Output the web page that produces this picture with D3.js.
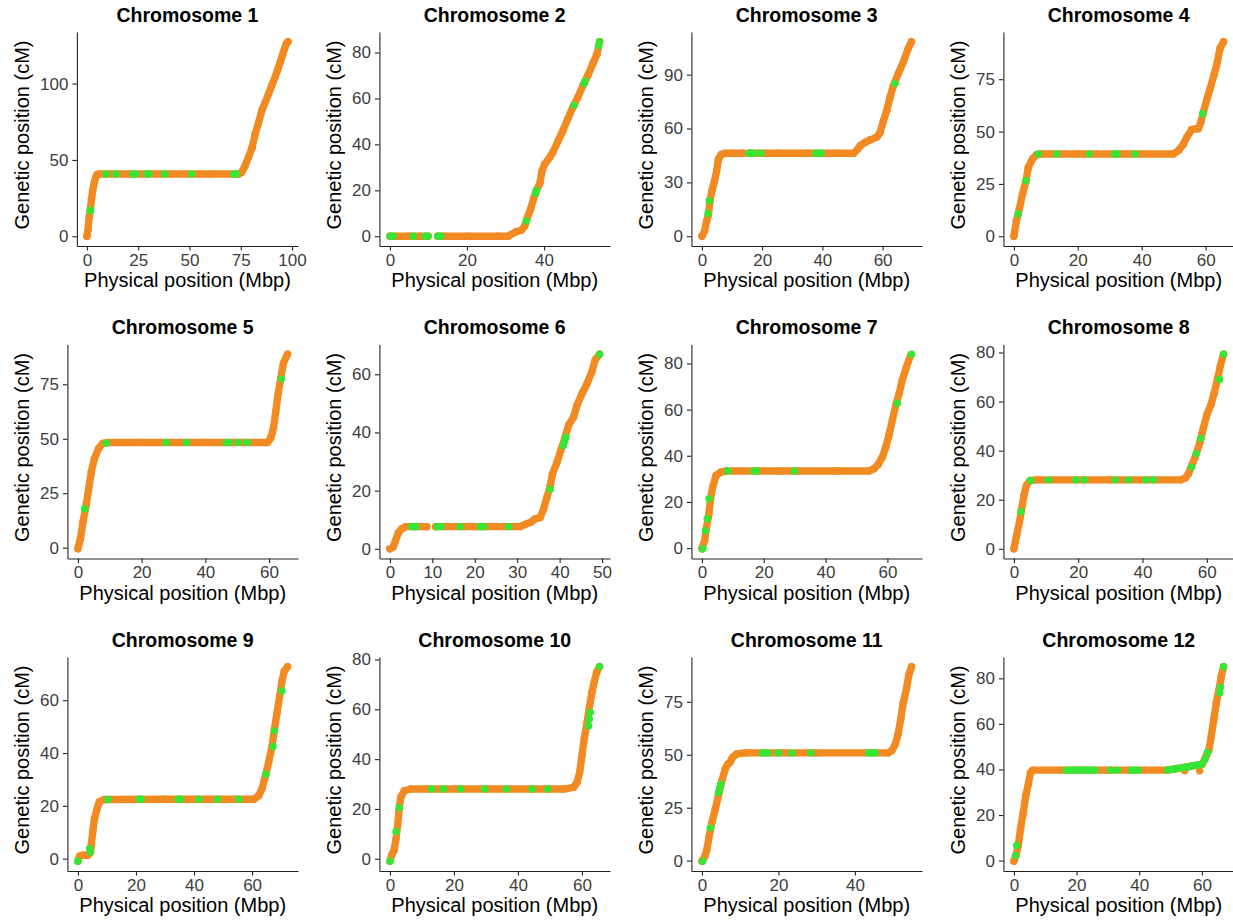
<!DOCTYPE html>
<html>
<head>
<meta charset="utf-8">
<script src="https://cdn.jsdelivr.net/npm/d3@7"></script>
<style>
  body { margin: 0; background: #fff; }
  svg { display: block; font-family: "Liberation Sans", Arial, sans-serif; }
</style>
</head>
<body>
<div id="chart"></div>
<script>
// Genetic vs physical map positions, one panel per chromosome.
// Each curve is a list of [Mbp, cM]; null marks a gap in the marker coverage.

const titles = [
  "Chromosome 1", "Chromosome 2", "Chromosome 3", "Chromosome 4",
  "Chromosome 5", "Chromosome 6", "Chromosome 7", "Chromosome 8",
  "Chromosome 9", "Chromosome 10", "Chromosome 11", "Chromosome 12",
];

const physTicks = [
  [0, 25, 50, 75, 100], [0, 20, 40], [0, 20, 40, 60], [0, 20, 40, 60],
  [0, 20, 40, 60], [0, 10, 20, 30, 40, 50], [0, 20, 40, 60], [0, 20, 40, 60],
  [0, 20, 40, 60], [0, 20, 40, 60], [0, 20, 40], [0, 20, 40, 60],
];

const genTicks = [
  [0, 50, 100], [0, 20, 40, 60, 80], [0, 30, 60, 90], [0, 25, 50, 75],
  [0, 25, 50, 75], [0, 20, 40, 60], [0, 20, 40, 60, 80], [0, 20, 40, 60, 80],
  [0, 20, 40, 60], [0, 20, 40, 60, 80], [0, 25, 50, 75], [0, 20, 40, 60, 80],
];

const curve1 = [[0,0],[0.5,4],[1.1,12.3],[1.6,16.7],[2.2,24],[2.8,29.8],[3.6,35.3],[4.3,38.6],[4.9,40.4],[6,40.8],[20,40.8],[40,40.8],[60,40.8],[74,40.8],[75.5,41.9],[77,46],[78.8,51.8],[80.5,58],[82,67],[83.6,74],[85.3,82.5],[87,88],[88.6,93.4],[90.2,99],[91.8,104.4],[93,109],[94.3,114.3],[95.4,119],[96.4,123],[97.2,126],[98,127.4]];
const green1 = [[1.6,16.7],[1.8,17],[9.3,40.8],[14.2,40.8],[22.4,40.8],[23.8,40.8],[29.2,40.8],[30.2,40.8],[37.9,40.8],[51,40.8],[71.6,40.8],[72.8,40.8]];

const curve2 = [[0,0],[5,0],[9.9,0],null,[12.4,0],[20,0],[28,0],[30.7,0],[31.5,0.9],[32.8,2],[34.1,2.6],[35,4.5],[35.7,8.2],[36.5,11.8],[37.4,16.9],[38,19.8],[38.9,23],[39.5,28.6],[40.2,31.5],[41.5,34.4],[42.3,36.6],[43.7,41.7],[44.9,46],[46.2,51.2],[47.5,56.3],[48.8,60.6],[50.1,65.7],[51.4,70.1],[52.7,75.2],[53.8,79.6],[54.4,84.7]];
const green2 = [[0,0],[0.8,0],[6,0],[9.1,0],[9.9,0],[12.4,0],[13.2,0],[35.4,6.7],[37.8,18.7],[38,19.8],[47.8,57],[50.4,66.5],[50.7,67.5],[54.2,83],[54.4,84.7]];

const curve3 = [[0,0],[0.9,3],[1.6,8.6],[2.2,12.3],[2.7,19.8],[3.3,25.3],[4.2,30.9],[4.9,36.5],[5.5,43],[6.4,45.5],[7.7,46.2],[10,46.2],[13.7,46.2],null,[15.6,46.2],[25,46.2],[35,46.2],[45,46.2],[50.4,46.2],[51.8,48.6],[52.6,50.5],[54.3,52.4],[55.9,53.7],[58.1,55.2],[59.2,57.9],[60.3,64.5],[61.4,70.1],[62.5,77.5],[63.6,84],[65.2,90.6],[66.9,97],[68.5,104.5],[69.6,108.3]];
const green3 = [[2,12.7],[2.4,19.8],[15.6,46.2],[16.3,46.2],[17,46.2],[19.5,46.2],[37.8,46.2],[38.6,46.2],[39.5,46.2],[64.1,85]];

const curve4 = [[0,0],[0.8,7.4],[1.7,13],[2.7,20.2],[3.8,26.5],[4.5,32.9],[5.8,36.9],[7.1,39],[8.5,39.3],[20,39.3],[35,39.3],[49.9,39.3],[51.5,40.9],[53,43.8],[54.1,47.3],[55.6,50.9],[56.7,51.3],[57.7,51.3],[58.5,54.5],[59.3,59.3],[60.3,64.9],[61.4,70.5],[62.6,76.9],[63.7,83.3],[64.5,89.7],[65.6,92.9]];
const green4 = [[1.4,10.6],[3.8,26.5],[7.6,39.3],[13.4,39.3],[23.6,39.3],[31.5,39.3],[32.2,39.3],[37.9,39.3],[59.1,58.5]];

const curve5 = [[0,-0.5],[0.8,4.1],[1.6,11.8],[2.6,19.5],[3.4,27.1],[4.2,34.8],[5.2,41],[6.5,45.6],[7.8,47.9],[9.4,48.3],[20,48.3],[40,48.3],[59.5,48.3],[60.5,50.2],[61.4,54.8],[62.1,62.4],[62.8,70.1],[63.7,77.8],[64.5,84.7],[65.8,88.8]];
const green5 = [[2.1,17.9],[8.9,48],[27.7,48.3],[34.1,48.3],[46.6,48.3],[47.4,48.3],[50.4,48.3],[53.2,48.3],[63.9,77.5]];

const curve6 = [[0,0],[0.8,0.7],[1.3,2.7],[2,5.5],[2.8,6.9],[3.7,7.6],[6,7.6],[8.7,7.6],null,[10.8,7.6],[20,7.6],[30.7,7.6],[31.9,8.4],[33.1,9],[34.1,10.2],[35.4,10.7],[36.2,13.6],[37,17.7],[37.8,21.7],[38.3,25.7],[39.4,29.8],[40.4,34.4],[41.3,38.4],[42.1,42.5],[43.3,45.3],[44.1,49.4],[45.3,53.4],[46.5,56.9],[47.6,60.9],[48.4,65],[49.4,66.9]];
const green6 = [[5.1,7.6],[6.1,7.6],[11.2,7.6],[12,7.6],[16.5,7.6],[21.3,7.6],[22.1,7.6],[28,7.6],[37.8,20.5],[40.9,35.5],[41.2,37],[41.5,38.4],[49.4,66.9]];

const curve7 = [[0,-0.3],[0.9,3.3],[1.4,8.4],[2.2,14.2],[2.8,21.4],[3.5,26.5],[4.6,31.5],[6.2,33],[8,33.4],[25,33.4],[42.8,33.4],null,[43.7,33.4],[54.1,33.4],[55.7,34.4],[57,36.2],[58.4,39.5],[59.5,43.8],[60.5,48.9],[61.6,55.4],[62.7,61.9],[63.8,67],[64.8,72.8],[66.2,78.6],[67.5,83.6]];
const green7 = [[0.3,-0.3],[1.2,7.5],[1.7,12.7],[2.3,21.4],[8.4,33.4],[16.8,33.4],[17.6,33.4],[29.9,33.4],[63.2,62.7],[67.8,84]];

const curve8 = [[0,0],[0.8,5.2],[1.7,10.7],[2.4,16.2],[3.1,21.7],[3.9,25.8],[5,27.8],[7,28.1],[30,28.1],[51.9,28.1],[53.3,28.8],[54.3,30.6],[55.3,34],[56.4,37.4],[57.9,43.6],[58.9,49.1],[60,54.6],[61.3,58.7],[62.3,63.5],[63.3,69],[64.2,74.5],[65.2,79.3]];
const green8 = [[2.2,15.1],[5.2,27.8],[10.7,28.1],[19.2,28.1],[21.8,28.1],[31.5,28.1],[35.6,28.1],[41,28.1],[43.4,28.1],[55.3,33.3],[56.7,38.8],[58.1,45],[64,69],[65.2,79.3]];

const curve9 = [[0,-1],[0.6,1],[1.7,1.3],[3.4,1.3],[4.3,2.3],[4.6,5],[5.1,10.1],[5.7,15.1],[6.6,18.9],[7.4,21.6],[9.1,22.4],[30,22.5],[60.6,22.5],[62.3,23.9],[63.4,26.4],[64.6,31.4],[65.7,36.5],[66.9,42.8],[67.7,49.1],[68.6,55.3],[69.5,61.6],[70.3,67.3],[71.1,71.1],[72.2,72.7]];
const green9 = [[0,-1],[4,3.8],[4.2,2.5],[10.3,22.4],[21.1,22.5],[21.8,22.5],[34.5,22.5],[35.3,22.5],[41.7,22.5],[48,22.5],[55.4,22.5],[64.8,32],[67.2,42.5],[67.7,48.4],[70.3,63.5]];

const curve10 = [[0,-1],[0.6,1.6],[1.3,3.3],[1.9,8],[2.4,13.3],[2.9,20],[3.4,24.7],[4.5,27.3],[6.5,28],[30,28],[54.3,28],[57.4,28.7],[58.5,30.7],[59.3,34.7],[60,41.3],[60.7,48],[61.6,54.7],[62.4,61.3],[63.1,66.7],[63.9,71.3],[64.7,75.3],[65.5,77.1]];
const green10 = [[0,-1],[1.9,10.9],[2.9,20.5],[13,28],[16.7,28],[22.1,28],[29.6,28],[36.4,28],[44.4,28],[49.3,28],[62.1,53.3],[62.3,56],[62.6,58.7],[65.5,77.1]];

const curve11 = [[0,-0.3],[0.7,1.7],[1.3,5.2],[1.9,11.6],[2.6,17.9],[3.5,24.3],[4.3,30.6],[5.2,37.7],[6.1,43.3],[6.8,45.7],[7.4,46.5],[8,48.8],[9.1,50.4],[11.3,50.9],[30,50.9],[48.7,50.9],[49.7,52],[50.6,55.2],[51.3,59.9],[52,67.1],[52.6,74.2],[53.5,81.3],[54.1,87.7],[54.8,91.6]];
const green11 = [[0.2,-0.3],[2.2,15.5],[4.3,32.2],[4.6,34],[4.9,36.1],[15.8,50.9],[16.6,50.9],[17.2,50.9],[20,50.9],[23.5,50.9],[28.5,50.9],[43.6,50.9],[44.4,50.9],[45.2,50.9]];

const curve12 = [[0,-0.3],[0.6,2.2],[1.4,6.6],[2.1,13.9],[3,21.2],[3.8,28.5],[4.6,33.6],[5.3,38.7],[6,39.7],[15,39.7],[30,39.7],[48.7,39.7],[50.8,40.1],[52.9,40.6],[56.1,41.3],[58.4,41.9],[60.1,42.3],[61.4,46],[62.3,48.9],[63,54.7],[63.8,62],[64.6,69.3],[65.5,75.2],[66.2,81],[66.9,85.1]];
const loose12 = [[54.5,39.4],[59.3,39.4]];
const green12 = [[0.6,2.2],[0.9,6.6],[16.8,39.7],[17.8,39.7],[18.8,39.7],[19.8,39.7],[20.8,39.7],[21.8,39.7],[22.8,39.7],[23.8,39.7],[24.8,39.7],[25.8,39.7],[30.8,39.7],[33,39.7],[37.5,39.7],[38.5,39.7],[39.6,39.7],[49,39.8],[50,40],[51,40.1],[52,40.4],[53,40.6],[54,40.8],[55,41.1],[56,41.3],[57,41.6],[58,41.8],[59,42.1],[60,42.3],[61,44.5],[61.8,47.5],[65.7,73.7],[65.9,76],[66.9,85.1]];

const curves = [curve1, curve2, curve3, curve4, curve5, curve6, curve7, curve8, curve9, curve10, curve11, curve12];
const greens = [green1, green2, green3, green4, green5, green6, green7, green8, green9, green10, green11, green12];
const loose = [[], [], [], [], [], [], [], [], [], [], [], loose12];

const colors = {
  marker: "#F28A22",
  highlight: "#36E636",
  axis: "#222",
  tickText: "#3d3d3d",
  title: "#000",
};

const options = {
  width: 1233,
  height: 924,
  colStep: 312,
  rowStep: 312.5,
  panelTop: 32,
  panelHeight: 214,
  panelRight: 298,
  markerRadius: 3.7,
  tickSize: 4.5,
};

const svg = d3.select("#chart")
  .append("svg")
  .attr("width", options.width)
  .attr("height", options.height);

titles.forEach((title, i) => drawPanel(i));

function drawPanel(i) {
  const col = i % 4;
  const row = Math.floor(i / 4);
  const cellX = col * options.colStep;
  const top = options.panelTop + row * options.rowStep;
  const bottom = top + options.panelHeight;
  const right = cellX + options.panelRight;

  const g = svg.append("g");

  // y tick labels push the axis to the right, as in ggplot
  const probe = g.append("g").style("font-size", "17px");
  const labelWidths = genTicks[i].map((t) => probe.append("text").text(t).node().getComputedTextLength());
  probe.remove();
  const left = cellX + 40 + d3.max(labelWidths) + 8.5;

  // ggplot-style 5% expansion around the data range
  const pts = curves[i].filter((d) => d !== null).concat(greens[i], loose[i]);
  const [x0, x1] = d3.extent(pts, (d) => d[0]);
  const [y0, y1] = d3.extent(pts, (d) => d[1]);
  const dx = (x1 - x0) * 0.05;
  const dy = (y1 - y0) * 0.05;

  const x = d3.scaleLinear().domain([x0 - dx, x1 + dx]).range([left, right]);
  const y = d3.scaleLinear().domain([y0 - dy, y1 + dy]).range([bottom, top]);

  // markers: orange trace, then green highlights on top
  const line = d3.line()
    .defined((d) => d !== null)
    .x((d) => x(d[0]))
    .y((d) => y(d[1]));

  g.append("path")
    .datum(curves[i])
    .attr("d", line)
    .attr("fill", "none")
    .attr("stroke", colors.marker)
    .attr("stroke-width", options.markerRadius * 2)
    .attr("stroke-linecap", "round")
    .attr("stroke-linejoin", "round");

  g.append("g")
    .selectAll("circle")
    .data(curves[i].filter((d) => d !== null).concat(loose[i]))
    .join("circle")
    .attr("cx", (d) => x(d[0]))
    .attr("cy", (d) => y(d[1]))
    .attr("r", options.markerRadius)
    .attr("fill", colors.marker);

  g.append("g")
    .selectAll("circle")
    .data(greens[i])
    .join("circle")
    .attr("cx", (d) => x(d[0]))
    .attr("cy", (d) => y(d[1]))
    .attr("r", options.markerRadius)
    .attr("fill", colors.highlight);

  // axes
  const xAxis = g.append("g")
    .attr("transform", `translate(0,${bottom})`)
    .call(d3.axisBottom(x).tickValues(physTicks[i]).tickSize(options.tickSize).tickSizeOuter(0).tickPadding(3.2));

  const yAxis = g.append("g")
    .attr("transform", `translate(${left},0)`)
    .call(d3.axisLeft(y).tickValues(genTicks[i]).tickSize(options.tickSize).tickSizeOuter(0).tickPadding(4));

  [xAxis, yAxis].forEach((ax) => {
    ax.select(".domain").attr("stroke", colors.axis).attr("stroke-width", 1.1);
    ax.selectAll(".tick line").attr("stroke", colors.axis).attr("stroke-width", 1.1);
    ax.selectAll(".tick text")
      .attr("fill", colors.tickText)
      .style("font-size", "17px")
      .style("font-family", "'Liberation Sans', Arial, sans-serif");
  });

  // panel title
  g.append("text")
    .attr("x", (left + right) / 2)
    .attr("y", top - 10.5)
    .attr("text-anchor", "middle")
    .attr("fill", colors.title)
    .style("font-size", "19.5px")
    .style("font-weight", "bold")
    .text(titles[i]);

  // axis titles
  g.append("text")
    .attr("x", (left + right) / 2)
    .attr("y", bottom + 41)
    .attr("text-anchor", "middle")
    .attr("fill", colors.title)
    .style("font-size", "20px")
    .text("Physical position (Mbp)");

  g.append("text")
    .attr("transform", `translate(${cellX + 29},${(top + bottom) / 2 - 4}) rotate(-90)`)
    .attr("text-anchor", "middle")
    .attr("fill", colors.title)
    .style("font-size", "20px")
    .text("Genetic position (cM)");
}
</script>
</body>
</html>
